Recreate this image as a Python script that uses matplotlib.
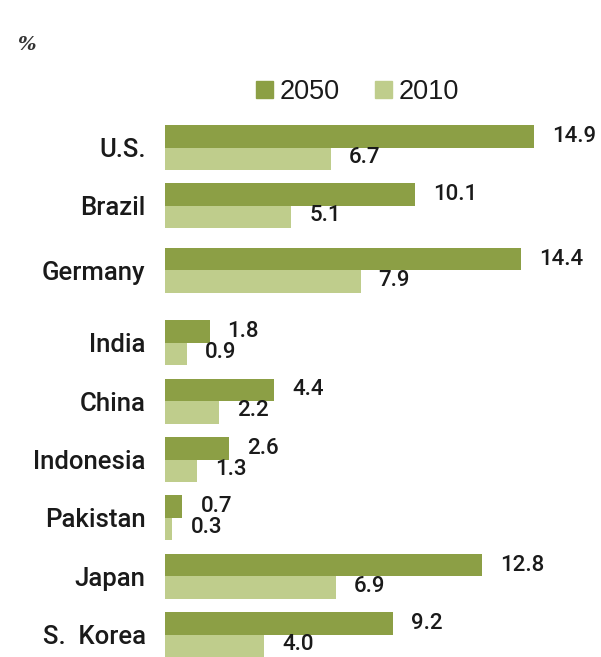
import matplotlib.pyplot as plt
import numpy as np
from matplotlib.patches import Patch

countries = ["U.S.", "Brazil", "Germany", "India", "China", "Indonesia",
             "Pakistan", "Japan", "S.  Korea"]
share_2050 = [14.9, 10.1, 14.4, 1.8, 4.4, 2.6, 0.7, 12.8, 9.2]
share_2010 = [6.7, 5.1, 7.9, 0.9, 2.2, 1.3, 0.3, 6.9, 4.0]

dark = "#8c9f45"
light = "#bfcd8c"
txt = "#1a1a1a"

W, H = 601, 657
fig = plt.figure(figsize=(W / 100, H / 100), dpi=100)

# axes in pixel-like units on y, data units on x
x0 = 165
px_per_unit = 24.75
ax = fig.add_axes([x0 / W, 0, (W - x0) / W, 1])
ax.set_xlim(0, (W - x0) / px_per_unit)
ax.set_ylim(H, 0)

extra = np.array([0, 0, 6, 20, 20, 20, 20, 20, 20])
centers = 147.5 + 58.4 * np.arange(len(countries)) + extra
bh = 22.5

ax.barh(centers - bh / 2, share_2050, height=bh, color=dark)
ax.barh(centers + bh / 2, share_2010, height=bh, color=light)

lab_font = dict(family="Roboto", weight="medium", color=txt)

for c, v in zip(centers, share_2050):
    ax.annotate(f"{v:.1f}", (v, c - bh / 2), xytext=(13, 0),
                textcoords="offset points", ha="left", va="center",
                fontsize=16, **lab_font)
for c, v in zip(centers, share_2010):
    ax.annotate(f"{v:.1f}", (v, c + bh / 2), xytext=(13, 1),
                textcoords="offset points", ha="left", va="center",
                fontsize=16, **lab_font)

ax.set_yticks(centers)
ax.set_yticklabels(countries, fontsize=18.5, **lab_font)
ax.tick_params(axis="y", length=0, pad=14)
ax.set_xticks([])
for s in ax.spines.values():
    s.set_visible(False)

handles = [Patch(color=dark, label="2050"), Patch(color=light, label="2010")]
fig.legend(handles=handles, loc="center left",
           bbox_to_anchor=(256 / W, 1 - 92 / H), ncol=2, frameon=False,
           prop=dict(family="Liberation Sans", size=19.5), labelcolor=txt,
           handlelength=0.62, handleheight=0.62,
           handletextpad=0.25, columnspacing=1.3, borderpad=0,
           borderaxespad=0)

fig.text(17 / W, 1 - 45 / H, "%", fontsize=14, style="italic",
         weight="bold", family="serif", color="#333333", va="center")

fig.savefig("out.png", dpi=100)
